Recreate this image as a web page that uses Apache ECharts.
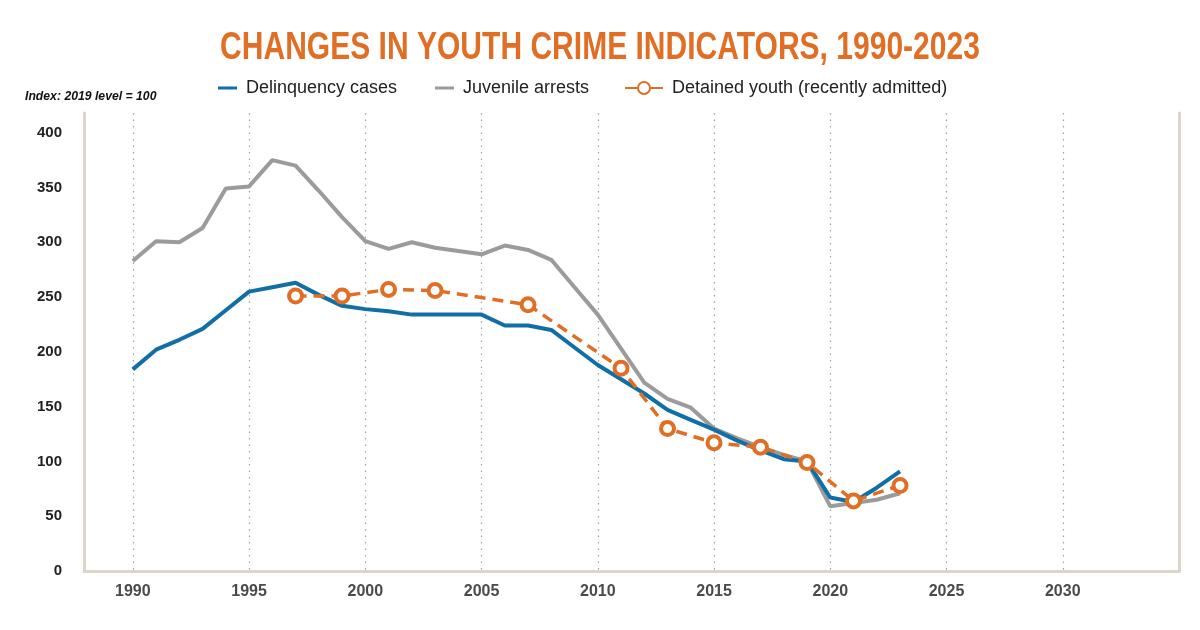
<!DOCTYPE html>
<html>
<head>
<meta charset="utf-8">
<title>Changes in youth crime indicators</title>
<script src="https://cdn.jsdelivr.net/npm/echarts@6/dist/echarts.min.js"></script>
<style>
  html, body { margin: 0; padding: 0; background: #fff; }
  #chart { width: 1200px; height: 630px; }
</style>
</head>
<body>
<div id="chart"></div>
<script>
// yearly series, 1990-2023 (index: 2019 = 100)
var years = [1990, 1991, 1992, 1993, 1994, 1995, 1996, 1997, 1998, 1999,
             2000, 2001, 2002, 2003, 2004, 2005, 2006, 2007, 2008, 2009,
             2010, 2011, 2012, 2013, 2014, 2015, 2016, 2017, 2018, 2019,
             2020, 2021, 2022, 2023];
var delinquency = [184, 202, 211, 221, 238, 255, 259, 263, 252, 242,
                   239, 237, 234, 234, 234, 234, 224, 224, 220, 204,
                   188, 175, 162, 147, 138, 129, 119, 110, 102, 100,
                   67, 63, 76, 91];
var arrests = [283, 301, 300, 313, 349, 351, 375, 370, 347, 323,
               301, 294, 300, 295, 292, 289, 297, 293, 284, 259,
               234, 203, 172, 157, 149, 130, 121, 113, 106, 100,
               59, 62, 65, 71];
// census years for detained youth
var detainedYears = [1997, 1999, 2001, 2003, 2007, 2011, 2013, 2015, 2017, 2019, 2021, 2023];
var detained = [251, 251, 257, 256, 243, 185, 130, 117, 113, 99, 64, 78];

var xTicks = [1990, 1995, 2000, 2005, 2010, 2015, 2020, 2025, 2030];
var yTicks = [0, 50, 100, 150, 200, 250, 300, 350, 400];

var BLUE = '#0f6fa6', GRAY = '#9b9b9b', ORANGE = '#e06f25', FRAME = '#dcd5ca';
var SANS = '"Liberation Sans", Arial, sans-serif';

function pairs(xs, ys) {
  return xs.map(function (x, i) { return [x, ys[i]]; });
}

var chart = echarts.init(document.getElementById('chart'));

var legendText = { fontFamily: SANS, fontSize: 18, color: '#222', padding: [0, 0, 0, 4] };

chart.setOption({
  animation: false,
  // title and index note are drawn narrow, like the condensed face of the original
  graphic: [{
    type: 'text',
    x: 600, y: 29,
    scaleX: 0.77,
    style: {
      text: 'CHANGES IN YOUTH CRIME INDICATORS, 1990-2023',
      align: 'center',
      font: 'bold 39px "Liberation Sans", Arial, sans-serif',
      fill: ORANGE
    }
  }, {
    type: 'text',
    x: 25, y: 90,
    scaleX: 0.94,
    style: {
      text: 'Index: 2019 level = 100',
      font: 'italic bold 13px "Liberation Sans", Arial, sans-serif',
      fill: '#111'
    }
  }],
  legend: [{
    data: [{ name: 'Delinquency cases', icon: 'rect' }],
    left: 213, top: 74,
    itemWidth: 19, itemHeight: 3,
    textStyle: legendText
  }, {
    data: [{ name: 'Juvenile arrests', icon: 'rect' }],
    left: 430, top: 74,
    itemWidth: 19, itemHeight: 3,
    textStyle: legendText
  }, {
    data: [{ name: 'Detained youth (recently admitted)', lineStyle: { type: 'solid' } }],
    left: 619, top: 74,
    itemWidth: 38, itemHeight: 15,
    textStyle: legendText
  }],
  grid: { left: 84, right: 21, top: 113, bottom: 59 },
  xAxis: {
    type: 'value',
    min: 1987.9,
    max: 2035,
    axisLine: { show: true, onZero: false, lineStyle: { color: FRAME, width: 3 } },
    axisTick: { show: false, customValues: xTicks },
    axisLabel: {
      customValues: xTicks,
      margin: 13,
      formatter: function (v) { return String(v); },
      fontFamily: SANS, fontWeight: 'bold', fontSize: 16, color: '#4a4a4a'
    },
    splitLine: { show: true, lineStyle: { color: '#a0a0a0', type: [1.5, 5], width: 1.2 } }
  },
  yAxis: [{
    type: 'value',
    min: 0,
    max: 418,
    axisLine: { show: true, lineStyle: { color: FRAME, width: 3 } },
    axisTick: { show: false },
    axisLabel: {
      customValues: yTicks,
      margin: 22,
      fontFamily: SANS, fontWeight: 'bold', fontSize: 15, color: '#222'
    },
    splitLine: { show: false }
  }, {
    type: 'value',
    position: 'right',
    min: 0,
    max: 418,
    axisLine: { show: true, lineStyle: { color: FRAME, width: 3 } },
    axisTick: { show: false },
    axisLabel: { show: false },
    splitLine: { show: false }
  }],
  series: [{
    name: 'Juvenile arrests',
    type: 'line',
    data: pairs(years, arrests),
    symbol: 'none',
    itemStyle: { color: GRAY },
    lineStyle: { color: GRAY, width: 4 }
  }, {
    name: 'Delinquency cases',
    type: 'line',
    data: pairs(years, delinquency),
    symbol: 'none',
    itemStyle: { color: BLUE },
    lineStyle: { color: BLUE, width: 4 }
  }, {
    name: 'Detained youth (recently admitted)',
    type: 'line',
    data: pairs(detainedYears, detained),
    symbol: 'circle',
    symbolSize: 13,
    itemStyle: { color: '#fff', borderColor: ORANGE, borderWidth: 4 },
    lineStyle: { color: ORANGE, width: 3.5, type: [11, 7] }
  }]
});
</script>
</body>
</html>
